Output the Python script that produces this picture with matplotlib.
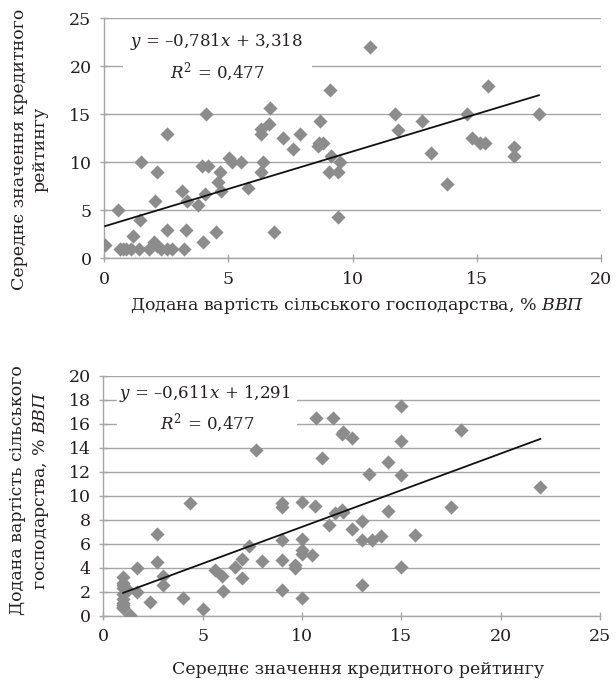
import numpy as np
import matplotlib
matplotlib.use("Agg")
import matplotlib.pyplot as plt

plt.rcParams['font.family'] = ['DejaVu Serif']
plt.rcParams['mathtext.fontset'] = 'custom'
plt.rcParams['mathtext.rm'] = 'DejaVu Serif'
plt.rcParams['mathtext.it'] = 'DejaVu Serif:italic'

# Agricultural value added (% of GDP) and average credit rating per country
agri_value = [
    0.05, 0.55, 0.65, 0.9, 1.1, 1.17, 1.45, 1.4, 1.5, 1.8,
    2.05, 2.0, 2.15, 2.15, 2.3, 2.55, 2.55, 2.75, 3.15, 3.2,
    3.3, 3.35, 3.8, 3.95, 4.05, 4.0, 4.1, 4.2, 4.5, 4.6,
    4.65, 4.7, 5.05, 5.15, 5.5, 5.8, 6.3, 6.3, 6.3, 6.4,
    6.65, 6.7, 6.85, 7.2, 7.6, 7.9, 8.6, 8.65, 8.7, 8.8,
    9.05, 9.1, 9.15, 9.4, 9.4, 9.5, 10.7, 11.7, 11.85, 12.8,
    13.15, 13.8, 14.6, 14.8, 15.15, 15.35, 15.45, 16.5, 16.5, 17.5,
    0.75, 2.55,
]
credit_rating = [
    1.35, 5.0, 1.0, 1.0, 1.0, 2.33, 4.0, 1.0, 10.0, 1.0,
    6.0, 1.7, 9.0, 1.25, 1.0, 13.0, 3.0, 1.0, 7.0, 1.0,
    3.0, 5.95, 5.6, 9.65, 6.65, 1.7, 15.0, 9.65, 2.7, 8.0,
    9.0, 7.0, 10.5, 10.0, 10.0, 7.35, 13.5, 13.0, 9.0, 10.0,
    14.0, 15.7, 2.7, 12.5, 11.35, 13.0, 11.65, 12.05, 14.35, 12.0,
    9.0, 17.5, 10.65, 4.35, 9.0, 10.0, 22.0, 15.0, 13.35, 14.35,
    11.0, 7.7, 15.0, 12.5, 12.0, 12.05, 18.0, 10.7, 11.55, 15.0,
    1.0, 1.0,
]

# Trend line coefficients and the printed equations
top_slope, top_intercept = 0.781, 3.318
bottom_slope, bottom_intercept = 0.611, 1.291
top_equation = "$y$ = \u20130,781$x$ + 3,318"
bottom_equation = "$y$ = \u20130,611$x$ + 1,291"
r_squared = "$R^2$ = 0,477"

top_xticks = [0, 5, 10, 15, 20]
top_yticks = [0, 5, 10, 15, 20, 25]
bottom_xticks = [0, 5, 10, 15, 20, 25]
bottom_yticks = list(range(0, 21, 2))

agri_label = "Додана вартість сільського господарства, $\\mathit{\\%\\ ВВП}$"
rating_label = "Середнє значення кредитного рейтингу"
rating_label_2l = "Середнє значення кредитного\nрейтингу"
agri_label_2l = "Додана вартість сільського\nгосподарства, $\\mathit{\\%\\ ВВП}$"

W, H = 616, 683
fig = plt.figure(figsize=(W / 100, H / 100), dpi=100)

grid_col = '#a6a6a6'
marker_col = '#8c8c8c'
text_col = '#231f20'


def style_axes(ax, xticks, yticks):
    ax.set_xticks(xticks)
    ax.set_yticks(yticks)
    ax.set_xlim(xticks[0], xticks[-1])
    ax.set_ylim(yticks[0], yticks[-1])
    ax.yaxis.grid(True, color=grid_col, linewidth=1.0)
    ax.set_axisbelow(True)
    for s in ('top', 'right'):
        ax.spines[s].set_visible(False)
    for s in ('left', 'bottom'):
        ax.spines[s].set_color(grid_col)
        ax.spines[s].set_linewidth(1.0)
    ax.tick_params(axis='both', direction='inout', length=6, width=1.0,
                   color=grid_col, labelsize=12.5, labelcolor=text_col, pad=6)


def fig_text(x, y, s, size=12.5, **kw):
    fig.text(x / W, 1 - y / H, s, fontsize=size, ha='center', va='center',
             color=text_col, **kw)


x = np.array(agri_value)
r = np.array(credit_rating)

# Upper panel: rating against agricultural share
ax1 = fig.add_axes([104 / W, 1 - 258.3 / H, 497 / W, 240 / H])
style_axes(ax1, top_xticks, top_yticks)
ax1.scatter(x, r, marker='D', s=52, color=marker_col, linewidths=0, zorder=3)
xs = np.array([x.min(), x.max()])
ax1.plot(xs, top_slope * xs + top_intercept, color='#111111', lw=1.3, zorder=4)
ax1.add_patch(plt.Rectangle((123 / W, 1 - 82 / H), 189 / W, 56 / H,
                            transform=fig.transFigure, facecolor='white',
                            edgecolor='none', zorder=2))
fig_text(216, 41, top_equation, size=12, zorder=5)
fig_text(217, 72, r_squared, size=12, zorder=5)
fig_text(357, 306, agri_label)
fig_text(30, 149, rating_label_2l, rotation=90, linespacing=1.3)

# Lower panel: agricultural share against rating
ax2 = fig.add_axes([103.3 / W, 1 - 615.7 / H, 496.7 / W, 240 / H])
style_axes(ax2, bottom_xticks, bottom_yticks)
ax2.scatter(r, x, marker='D', s=52, color=marker_col, linewidths=0, zorder=3)
rs = np.array([r.min(), r.max()])
ax2.plot(rs, bottom_slope * rs + bottom_intercept, color='#111111', lw=1.3, zorder=4)
ax2.add_patch(plt.Rectangle((117 / W, 1 - 436 / H), 180 / W, 58 / H,
                            transform=fig.transFigure, facecolor='white',
                            edgecolor='none', zorder=2))
fig_text(205, 393, bottom_equation, size=12, zorder=5)
fig_text(207, 423, r_squared, size=12, zorder=5)
fig_text(358, 669, rating_label)
fig_text(30, 490, agri_label_2l, rotation=90, linespacing=1.3)

fig.savefig("out.png", dpi=100)
